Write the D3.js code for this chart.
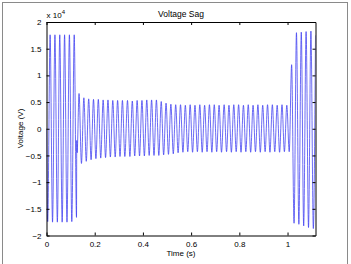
<!DOCTYPE html>
<html lang="en">
<head>
<meta charset="UTF-8">
<title>Voltage Sag</title>
<script src="https://cdnjs.cloudflare.com/ajax/libs/d3/7.8.5/d3.min.js"></script>
<style>
    body { margin: 0; padding: 0; background: #fff; }
    svg { display: block; font-family: "Liberation Sans", Arial, sans-serif; }
</style>
</head>
<body>
<div id="chart"></div>
<script>
    // waveform extrema (time in s, voltage in units of 1e4 V)
    const preT = [0, 0.005, 0.015, 0.025, 0.035, 0.045, 0.055, 0.065, 0.075, 0.085, 0.095, 0.105, 0.115, 0.1245, 0.1255, 0.127];
    const preV = [0, -1.74, 1.76, -1.75, 1.76, -1.75, 1.76, -1.75, 1.76, -1.75, 1.76, -1.74, 1.76, -1.66, -0.22, -0.45];

    const sagT = [0.135, 0.145, 0.155, 0.165, 0.175, 0.185, 0.195, 0.205, 0.215, 0.225,
        0.235, 0.245, 0.255, 0.265, 0.275, 0.285, 0.295, 0.305, 0.315, 0.325,
        0.336, 0.346, 0.356, 0.366, 0.376, 0.386, 0.396, 0.406, 0.416, 0.426,
        0.436, 0.446, 0.456, 0.466, 0.476, 0.486, 0.496, 0.506, 0.516, 0.526,
        0.536, 0.546, 0.556, 0.566, 0.576, 0.586, 0.596, 0.606, 0.616, 0.626,
        0.636, 0.646, 0.656, 0.666, 0.676, 0.686, 0.696, 0.706, 0.716, 0.726,
        0.737, 0.747, 0.757, 0.767, 0.777, 0.787, 0.797, 0.807, 0.817, 0.827,
        0.837, 0.847, 0.857, 0.867, 0.877, 0.887, 0.897, 0.907, 0.917, 0.927,
        0.937, 0.947, 0.957, 0.967, 0.977, 0.987, 0.997, 1.007];
    const sagV = [0.66, -0.65, 0.58, -0.61, 0.56, -0.58, 0.55, -0.56, 0.55, -0.55,
        0.54, -0.54, 0.54, -0.53, 0.53, -0.53, 0.53, -0.52, 0.53, -0.52,
        0.53, -0.52, 0.52, -0.51, 0.53, -0.51, 0.53, -0.51, 0.54, -0.50,
        0.54, -0.50, 0.54, -0.50, 0.51, -0.49, 0.48, -0.48, 0.46, -0.47,
        0.45, -0.45, 0.45, -0.44, 0.44, -0.43, 0.45, -0.44, 0.44, -0.43,
        0.45, -0.44, 0.44, -0.43, 0.45, -0.44, 0.45, -0.43, 0.44, -0.44,
        0.45, -0.43, 0.44, -0.44, 0.45, -0.43, 0.45, -0.44, 0.44, -0.43,
        0.45, -0.44, 0.44, -0.43, 0.45, -0.44, 0.44, -0.43, 0.45, -0.44,
        0.45, -0.43, 0.44, -0.44, 0.45, -0.43, 0.44, -0.43];

    const postT = [1.017, 1.027, 1.037, 1.047, 1.057, 1.067, 1.077, 1.087, 1.097, 1.107, 1.116];
    const postV = [1.2, -1.77, 1.80, -1.79, 1.81, -1.82, 1.82, -1.85, 1.83, -1.87, 1.75];

    const xTicks = [0, 0.2, 0.4, 0.6, 0.8, 1];
    const yTicks = [-2, -1.5, -1, -0.5, 0, 0.5, 1, 1.5, 2];
    const xMax = 1.116;

    const times = preT.concat(sagT, postT);
    const volts = preV.concat(sagV, postV);
    const data = times.map((t, i) => ({t: t, v: volts[i]}));

    const width = 351, height = 264;
    const plotLeft = 46.5, plotRight = 315.5, plotTop = 22, plotBottom = 235.5;

    const svg = d3.select("#chart").append("svg")
        .attr("width", width)
        .attr("height", height);

    // outer figure frame
    svg.append("rect")
        .attr("x", 2.5).attr("y", 2.5)
        .attr("width", 345).attr("height", 270)
        .attr("fill", "none")
        .attr("stroke", "#8a8a8a");

    const x = d3.scaleLinear().domain([0, xMax]).range([plotLeft, plotRight]);
    const y = d3.scaleLinear().domain([-2, 2]).range([plotBottom, plotTop]);

    const line = d3.line()
        .x(d => x(d.t))
        .y(d => y(d.v))
        .curve(d3.curveMonotoneX);

    svg.append("defs").append("clipPath").attr("id", "clip")
        .append("rect")
        .attr("x", plotLeft).attr("y", plotTop)
        .attr("width", plotRight - plotLeft).attr("height", plotBottom - plotTop);

    svg.append("path")
        .datum(data)
        .attr("clip-path", "url(#clip)")
        .attr("fill", "none")
        .attr("stroke", "#3a3af0")
        .attr("stroke-width", 0.75)
        .attr("d", line);

    // axes: ticks inside on all four sides, MATLAB style
    const fmt = d => d3.format("")(+d.toFixed(1));
    svg.append("g")
        .attr("transform", `translate(0,${plotBottom})`)
        .call(d3.axisBottom(x).tickValues(xTicks).tickSizeInner(-3).tickSizeOuter(0).tickPadding(6).tickFormat(fmt));
    svg.append("g")
        .attr("transform", `translate(0,${plotTop})`)
        .call(d3.axisTop(x).tickValues(xTicks).tickSizeInner(-3).tickSizeOuter(0).tickFormat(""));
    svg.append("g")
        .attr("transform", `translate(${plotLeft},0)`)
        .call(d3.axisLeft(y).tickValues(yTicks).tickSizeInner(-3).tickSizeOuter(0).tickPadding(5).tickFormat(fmt));
    svg.append("g")
        .attr("transform", `translate(${plotRight},0)`)
        .call(d3.axisRight(y).tickValues(yTicks).tickSizeInner(-3).tickSizeOuter(0).tickFormat(""));

    svg.selectAll(".domain").attr("stroke", "#000").attr("stroke-width", 1);
    svg.selectAll(".tick line").attr("stroke", "#000");
    svg.selectAll(".tick text")
        .attr("font-family", "Liberation Sans, Arial, sans-serif")
        .attr("font-size", 8)
        .attr("fill", "#000");

    // title and labels
    svg.append("text")
        .attr("x", 181).attr("y", 17)
        .attr("text-anchor", "middle")
        .attr("font-size", 8.5)
        .text("Voltage Sag");

    const exp = svg.append("text")
        .attr("x", 46.5).attr("y", 18)
        .attr("font-size", 8);
    exp.append("tspan").text("x 10");
    exp.append("tspan").attr("dy", -4).attr("font-size", 6).text("4");

    svg.append("text")
        .attr("x", 181).attr("y", 256)
        .attr("text-anchor", "middle")
        .attr("font-size", 8)
        .text("Time (s)");

    svg.append("text")
        .attr("transform", "translate(23,128.5) rotate(-90)")
        .attr("text-anchor", "middle")
        .attr("font-size", 8)
        .text("Voltage (V)");
</script>
</body>
</html>
